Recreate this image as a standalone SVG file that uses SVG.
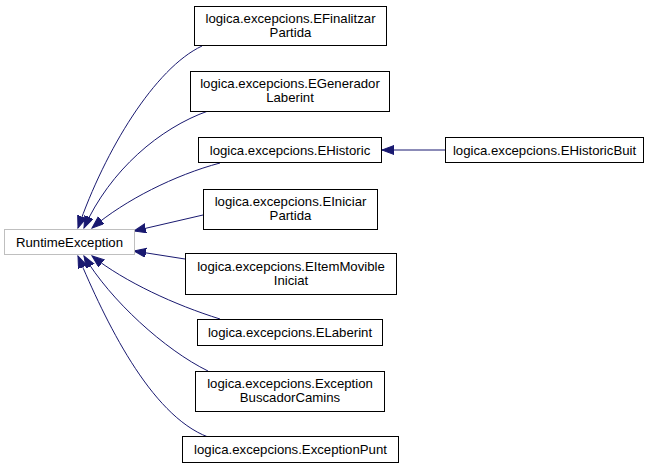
<svg xmlns="http://www.w3.org/2000/svg" width="657" height="469" viewBox="0 0 657 469">
<defs>
<style>
.box{fill:#ffffff;stroke:#000000;stroke-width:1}
.root{fill:#ffffff;stroke:#bfbfbf;stroke-width:1}
.lbl{font-family:"Liberation Sans",Arial,sans-serif;font-size:13.2px;fill:#000000;text-anchor:middle}
.edge{fill:none;stroke:#191970;stroke-width:1;marker-end:url(#arr)}
</style>
<marker id="arr" markerUnits="userSpaceOnUse" markerWidth="13" markerHeight="10" refX="12" refY="4.5" orient="auto" viewBox="0 0 13 10">
<path d="M0,0 L12,4.5 L0,9 Z" fill="#191970" stroke="#191970"/>
</marker>
</defs>
<rect width="657" height="469" fill="#ffffff"/>
<g id="connectors">
<path class="edge" d="M202,46 C155,68 105,150 78,228"/>
<path class="edge" d="M208,111 C160,128 110,170 84,228"/>
<path class="edge" d="M220,163 C175,175 125,200 92,228"/>
<path class="edge" d="M203,215 L134,231"/>
<path class="edge" d="M185,259 L134,251"/>
<path class="edge" d="M220,319 C175,305 125,282 92,256"/>
<path class="edge" d="M208,371 C165,350 110,300 84,256"/>
<path class="edge" d="M208,437 C150,415 105,320 78,256"/>
<path class="edge" d="M445,150 L382,150"/>
</g>
<g id="n_runtime">
<rect class="root" x="4.5" y="229.5" width="130" height="25"/>
<text class="lbl" x="69.5" y="246.5">RuntimeException</text>
</g>
<g id="n_finalitzar">
<rect class="box" x="194.5" y="6.5" width="192" height="39"/>
<text class="lbl" x="290.5" y="22.5">logica.excepcions.EFinalitzar</text>
<text class="lbl" x="290.5" y="36.5">Partida</text>
</g>
<g id="n_generador">
<rect class="box" x="190.5" y="71.5" width="199" height="40"/>
<text class="lbl" x="290" y="88">logica.excepcions.EGenerador</text>
<text class="lbl" x="290" y="102">Laberint</text>
</g>
<g id="n_historic">
<rect class="box" x="198.5" y="137.5" width="183" height="25"/>
<text class="lbl" x="290" y="154.5">logica.excepcions.EHistoric</text>
</g>
<g id="n_historicbuit">
<rect class="box" x="445.5" y="137.5" width="198" height="25"/>
<text class="lbl" x="544.5" y="154.5">logica.excepcions.EHistoricBuit</text>
</g>
<g id="n_iniciar">
<rect class="box" x="203.5" y="189.5" width="174" height="40"/>
<text class="lbl" x="290.5" y="206">logica.excepcions.EIniciar</text>
<text class="lbl" x="290.5" y="220">Partida</text>
</g>
<g id="n_itemmovible">
<rect class="box" x="185.5" y="253.5" width="211" height="41"/>
<text class="lbl" x="291" y="270.5">logica.excepcions.EItemMovible</text>
<text class="lbl" x="291" y="284.5">Iniciat</text>
</g>
<g id="n_laberint">
<rect class="box" x="197.5" y="319.5" width="185" height="26"/>
<text class="lbl" x="290" y="337">logica.excepcions.ELaberint</text>
</g>
<g id="n_buscador">
<rect class="box" x="195.5" y="371.5" width="189" height="40"/>
<text class="lbl" x="290" y="388">logica.excepcions.Exception</text>
<text class="lbl" x="290" y="402">BuscadorCamins</text>
</g>
<g id="n_punt">
<rect class="box" x="182.5" y="436.5" width="216" height="26"/>
<text class="lbl" x="290.5" y="454">logica.excepcions.ExceptionPunt</text>
</g>
</svg>
